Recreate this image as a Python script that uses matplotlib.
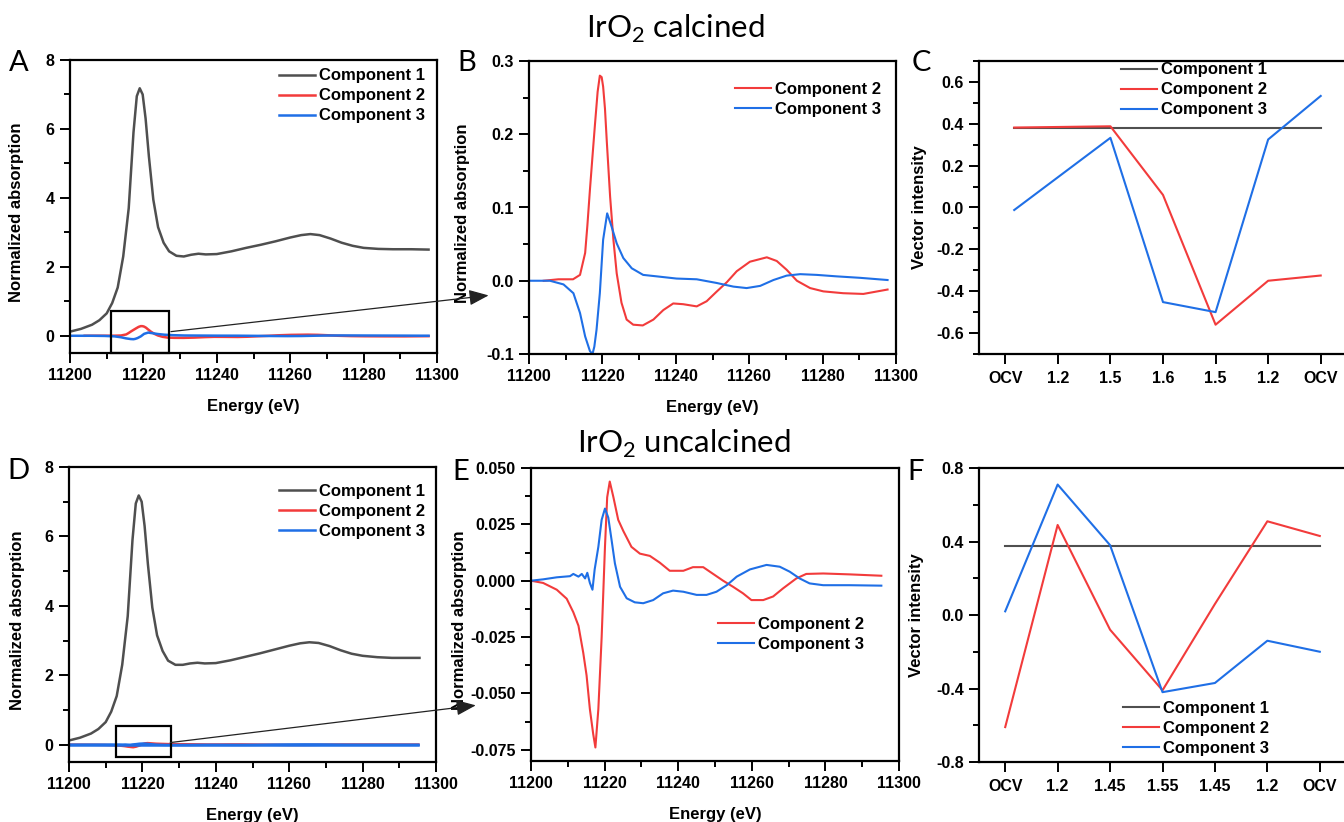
import numpy as np
import matplotlib
matplotlib.use("Agg")
import matplotlib.pyplot as plt
from matplotlib.patches import Rectangle, ConnectionPatch
from matplotlib.ticker import MultipleLocator, FormatStrFormatter

plt.rcParams['font.family'] = ['Liberation Sans', 'DejaVu Sans']
plt.rcParams['font.weight'] = 'bold'
plt.rcParams['axes.unicode_minus'] = False
plt.rcParams['mathtext.fontset'] = 'custom'
plt.rcParams['mathtext.rm'] = 'Lato'

GRAY = '#4f4f4f'
RED = '#f23b3b'
BLUE = '#1f6fe6'

# ---- IrO2 calcined: component spectra ----
e_c1_cal = [11200, 11203, 11206, 11208, 11210, 11211.5, 11213, 11214.5, 11216, 11217.3,
            11218.2, 11219, 11219.8, 11220.6, 11221.5, 11222.7, 11224, 11225.5, 11227, 11229,
            11231, 11233, 11235, 11237, 11240, 11244, 11248, 11252, 11256, 11260,
            11263, 11265.5, 11268, 11271, 11274, 11277, 11280, 11284, 11288, 11293, 11297.7]
c1_cal = [0.12, 0.2, 0.32, 0.45, 0.65, 0.95, 1.4, 2.3, 3.7, 5.9,
          6.95, 7.18, 7.0, 6.3, 5.2, 3.95, 3.15, 2.7, 2.45, 2.32,
          2.3, 2.35, 2.38, 2.36, 2.37, 2.45, 2.55, 2.64, 2.74, 2.85,
          2.92, 2.95, 2.92, 2.82, 2.7, 2.61, 2.55, 2.52, 2.51, 2.51, 2.5]

e_c2_cal = [11204, 11208, 11212, 11213.9, 11215.3, 11215.9, 11216.6, 11217.3, 11218, 11218.7,
            11219.3, 11219.8, 11220.2, 11220.7, 11221.2, 11222.1, 11223, 11223.9, 11225.2, 11226.6,
            11228.4, 11231, 11233.9, 11236.6, 11239.3, 11242, 11245.7, 11248.4, 11251.1, 11253.9,
            11256.6, 11260.2, 11264.8, 11267.5, 11270.2, 11273, 11276.6, 11280.2, 11285.6, 11291.1,
            11297.7]
c2_cal = [0.0, 0.002, 0.002, 0.008, 0.038, 0.075, 0.124, 0.17, 0.215, 0.258,
          0.28, 0.278, 0.265, 0.235, 0.19, 0.115, 0.056, 0.01, -0.03, -0.053,
          -0.06, -0.061, -0.053, -0.04, -0.031, -0.032, -0.035, -0.028, -0.015, -0.002,
          0.013, 0.026, 0.032, 0.027, 0.015, 0.0, -0.01, -0.0145, -0.017, -0.018,
          -0.012]

e_c3_cal = [11200, 11205.7, 11209.4, 11212.1, 11213.9, 11215.3, 11216.6, 11217.3, 11217.8, 11218.4,
            11219.3, 11220.2, 11221.3, 11222.5, 11223.9, 11225.7, 11228, 11231.1, 11234.8, 11240.2,
            11245.7, 11251.1, 11255.7, 11259.3, 11263, 11266.6, 11270.2, 11273.9, 11278.4, 11283.8,
            11290.2, 11297.7]
c3_cal = [0.0, 0.0, -0.005, -0.017, -0.044, -0.076, -0.096, -0.1, -0.09, -0.067,
          -0.017, 0.056, 0.092, 0.074, 0.051, 0.031, 0.017, 0.008, 0.006, 0.003,
          0.002, -0.003, -0.008, -0.01, -0.007, 0.001, 0.007, 0.009, 0.008, 0.006,
          0.004, 0.001]

# ---- IrO2 uncalcined: component spectra ----
e_c1_unc = [11200, 11203, 11206, 11208, 11210, 11211.5, 11213, 11214.5, 11216, 11217.3,
            11218.2, 11219, 11219.8, 11220.6, 11221.5, 11222.7, 11224, 11225.5, 11227, 11229,
            11231, 11233, 11235, 11237, 11240, 11244, 11248, 11252, 11256, 11260,
            11263, 11265.5, 11268, 11271, 11274, 11277, 11280, 11284, 11288, 11292, 11295.5]
c1_unc = [0.12, 0.2, 0.32, 0.45, 0.65, 0.95, 1.4, 2.3, 3.7, 5.9,
          6.95, 7.18, 7.0, 6.3, 5.2, 3.95, 3.15, 2.7, 2.42, 2.3,
          2.3, 2.34, 2.36, 2.34, 2.35, 2.43, 2.53, 2.63, 2.74, 2.85,
          2.92, 2.95, 2.93, 2.84, 2.72, 2.62, 2.56, 2.52, 2.5, 2.5, 2.5]

e_c2_unc = [11200, 11203.3, 11207, 11209.7, 11211.5, 11212.9, 11214.2, 11215.1, 11216, 11216.9,
            11217.5, 11218.3, 11219.2, 11220.1, 11220.7, 11221.4, 11222.4, 11223.7, 11225.1, 11227.3,
            11229.6, 11232.3, 11235, 11237.7, 11241.4, 11244, 11246.8, 11249.5, 11252.2, 11254.9,
            11257.6, 11259.9, 11263.1, 11265.8, 11268.5, 11272.1, 11274.8, 11279.4, 11286.6, 11295.2]
c2_unc = [0.0, -0.001, -0.004, -0.008, -0.014, -0.02, -0.032, -0.042, -0.057, -0.068,
          -0.074, -0.057, -0.025, 0.015, 0.037, 0.044, 0.037, 0.027, 0.022, 0.015,
          0.012, 0.011, 0.008, 0.0044, 0.0044, 0.006, 0.006, 0.003, 0.0, -0.0027,
          -0.0056, -0.0086, -0.0086, -0.007, -0.0034, 0.001, 0.003, 0.0032, 0.0028, 0.0022]

e_c3_unc = [11200, 11203.3, 11207, 11210.6, 11211.5, 11212.9, 11213.8, 11214.7, 11215.3, 11216,
            11216.7, 11217.3, 11218.3, 11219.2, 11220.1, 11221, 11221.9, 11222.8, 11224.2, 11226,
            11228.2, 11230.5, 11233.2, 11235.9, 11238.6, 11241.4, 11245, 11247.7, 11250.4, 11253.2,
            11255.9, 11259.5, 11264, 11267.6, 11270.3, 11273, 11275.7, 11279.4, 11286.6, 11295.2]
c3_unc = [0.0, 0.0006, 0.0015, 0.002, 0.003, 0.0018, 0.003, 0.001, 0.0035, -0.001,
          -0.004, 0.005, 0.015, 0.027, 0.032, 0.028, 0.018, 0.0077, -0.0027, -0.0078,
          -0.0096, -0.01, -0.0086, -0.0056, -0.0044, -0.0049, -0.0063, -0.0063, -0.0049, -0.002,
          0.0018, 0.005, 0.007, 0.0062, 0.004, 0.001, -0.0012, -0.002, -0.002, -0.0022]

# ---- vector intensities ----
pot_cal = ['OCV', '1.2', '1.5', '1.6', '1.5', '1.2', 'OCV']
pos_cal = [0.17, 2, 3, 4, 5, 6]
v1_cal = [0.38, 0.38, 0.38, 0.38, 0.38, 0.38]
v2_cal = [0.382, 0.388, 0.06, -0.56, -0.35, -0.325]
v3_cal = [-0.012, 0.333, -0.452, -0.50, 0.325, 0.533]

pot_unc = ['OCV', '1.2', '1.45', '1.55', '1.45', '1.2', 'OCV']
pos_unc = [0, 1, 2, 3, 4, 5, 6]
v1_unc = [0.375, 0.375, 0.375, 0.375, 0.375, 0.375, 0.375]
v2_unc = [-0.61, 0.49, -0.08, -0.41, 0.06, 0.51, 0.43]
v3_unc = [0.02, 0.71, 0.38, -0.42, -0.37, -0.14, -0.20]

W, H = 1344, 822
fig = plt.figure(figsize=(W / 100, H / 100), dpi=100)


def add_ax(left, top, right, bottom):
    return fig.add_axes([left / W, 1 - bottom / H, (right - left) / W, (bottom - top) / H])


def style(ax):
    for s in ax.spines.values():
        s.set_linewidth(1.6)
    ax.tick_params(which='both', direction='out', width=1.4, labelsize=11.5, top=False, right=False)
    ax.tick_params(which='major', length=7, pad=4)
    ax.tick_params(which='minor', length=4)
    for t in ax.get_xticklabels() + ax.get_yticklabels():
        t.set_fontweight('bold')


def legend(ax, x, y):
    ax.legend(loc='upper left', bbox_to_anchor=(x, y), frameon=False,
              handlelength=2.15, handletextpad=0.25, labelspacing=0.3,
              borderpad=0, borderaxespad=0, prop={'weight': 'bold', 'size': 12})


def spectra_axes(ax, ymin, ymax, ymaj, ymin_step, fmt, ylab_x):
    ax.set_xlim(11200, 11300)
    ax.set_ylim(ymin, ymax)
    ax.xaxis.set_major_locator(MultipleLocator(20))
    ax.xaxis.set_minor_locator(MultipleLocator(10))
    ax.yaxis.set_major_locator(MultipleLocator(ymaj))
    ax.yaxis.set_minor_locator(MultipleLocator(ymin_step))
    ax.yaxis.set_major_formatter(FormatStrFormatter(fmt))
    ax.set_xlabel('Energy (eV)', fontsize=12, fontweight='bold', labelpad=11)
    ax.set_ylabel('Normalized absorption', fontsize=12, fontweight='bold')
    ax.yaxis.set_label_coords(ylab_x, 0.48)
    style(ax)


def vector_axes(ax, labels, ymin, ymax, ymaj, ymin_step, ylab_x):
    ax.set_xlim(-0.5, 6.5)
    ax.set_ylim(ymin, ymax)
    ax.set_xticks(range(len(labels)))
    ax.set_xticklabels(labels)
    ax.yaxis.set_major_locator(MultipleLocator(ymaj))
    ax.yaxis.set_minor_locator(MultipleLocator(ymin_step))
    ax.yaxis.set_major_formatter(FormatStrFormatter('%.1f'))
    ax.set_ylabel('Vector intensity', fontsize=12, fontweight='bold')
    ax.yaxis.set_label_coords(ylab_x, 0.5)
    style(ax)
    ax.tick_params(axis='x', pad=5)


# ---------- A ----------
axA = add_ax(70, 60, 437, 353)
axA.plot(e_c1_cal, c1_cal, color=GRAY, lw=1.8, label='Component 1')
axA.plot(e_c2_cal, c2_cal, color=RED, lw=1.8, label='Component 2')
axA.plot(e_c3_cal, c3_cal, color=BLUE, lw=1.8, label='Component 3')
spectra_axes(axA, -0.5, 8, 2, 1, '%d', -0.125)
legend(axA, 0.569, 0.971)
axA.add_patch(Rectangle((11211.2, -0.5), 15.9, 1.23, fill=False, lw=1.6, ec='black',
                        clip_on=False, zorder=5))

# ---------- B ----------
axB = add_ax(529, 61, 896, 354)
axB.plot(e_c2_cal, c2_cal, color=RED, lw=1.5, label='Component 2')
axB.plot(e_c3_cal, c3_cal, color=BLUE, lw=1.5, label='Component 3')
spectra_axes(axB, -0.1, 0.3, 0.1, 0.05, '%.1f', -0.161)
legend(axB, 0.561, 0.93)

# ---------- C ----------
axC = add_ax(979, 61, 1347, 354)
axC.plot(pos_cal, v1_cal, color=GRAY, lw=1.5, label='Component 1')
axC.plot(pos_cal, v2_cal, color=RED, lw=1.5, label='Component 2')
axC.plot(pos_cal, v3_cal, color=BLUE, lw=1.5, label='Component 3')
vector_axes(axC, pot_cal, -0.7, 0.7, 0.2, 0.1, -0.141)
legend(axC, 0.386, 0.995)

# ---------- D ----------
axD = add_ax(69, 467, 436, 762)
axD.plot(e_c1_unc, c1_unc, color=GRAY, lw=1.8, label='Component 1')
axD.plot(e_c2_unc, c2_unc, color=RED, lw=1.8, label='Component 2')
axD.plot(e_c3_unc, c3_unc, color=BLUE, lw=1.8, label='Component 3')
axD.plot([11200, 11295.2], [0, 0], color=BLUE, lw=1.8)
spectra_axes(axD, -0.5, 8, 2, 1, '%d', -0.12)
legend(axD, 0.572, 0.944)
axD.add_patch(Rectangle((11212.9, -0.37), 14.8, 0.9, fill=False, lw=1.6, ec='black',
                        clip_on=False, zorder=5))

# ---------- E ----------
axE = add_ax(531, 468, 899, 761)
axE.plot(e_c2_unc, c2_unc, color=RED, lw=1.5, label='Component 2')
axE.plot(e_c3_unc, c3_unc, color=BLUE, lw=1.5, label='Component 3')
spectra_axes(axE, -0.08, 0.05, 0.025, 0.0125, '%.3f', -0.174)
legend(axE, 0.508, 0.493)

# ---------- F ----------
axF = add_ax(979, 468, 1346, 762)
axF.plot(pos_unc, v1_unc, color=GRAY, lw=1.5, label='Component 1')
axF.plot(pos_unc, v2_unc, color=RED, lw=1.5, label='Component 2')
axF.plot(pos_unc, v3_unc, color=BLUE, lw=1.5, label='Component 3')
vector_axes(axF, pot_unc, -0.8, 0.8, 0.4, 0.2, -0.15)
legend(axF, 0.392, 0.209)

# zoom arrows
for src, dst, xy_src, xy_dst in [(axA, axB, (11227.5, 0.12), (-0.11, 0.2)),
                                 (axD, axE, (11227.6, 0.06), (-0.15, 0.19))]:
    con = ConnectionPatch(xyA=xy_src, coordsA='data', axesA=src,
                          xyB=xy_dst, coordsB='axes fraction', axesB=dst,
                          arrowstyle='-|>,head_length=1.0,head_width=0.4',
                          color='#222222', lw=0.9, mutation_scale=12)
    fig.add_artist(con)

# panel letters and titles
for letter, px, py in [('A', 9, 63), ('B', 457, 63), ('C', 912, 63),
                       ('D', 7, 471), ('E', 452, 472), ('F', 907, 472)]:
    fig.text(px / W, 1 - py / H, letter, fontsize=21, fontweight='normal',
             family='Lato', va='center', ha='left')

fig.text(675 / W, 1 - 29 / H, r'IrO$_{\mathregular{2}}$ calcined', fontsize=22.5,
         fontweight='normal', family='Lato', ha='center', va='center')
fig.text(684 / W, 1 - 444 / H, r'IrO$_{\mathregular{2}}$ uncalcined', fontsize=22.5,
         fontweight='normal', family='Lato', ha='center', va='center')

fig.savefig('out.png', dpi=100)
